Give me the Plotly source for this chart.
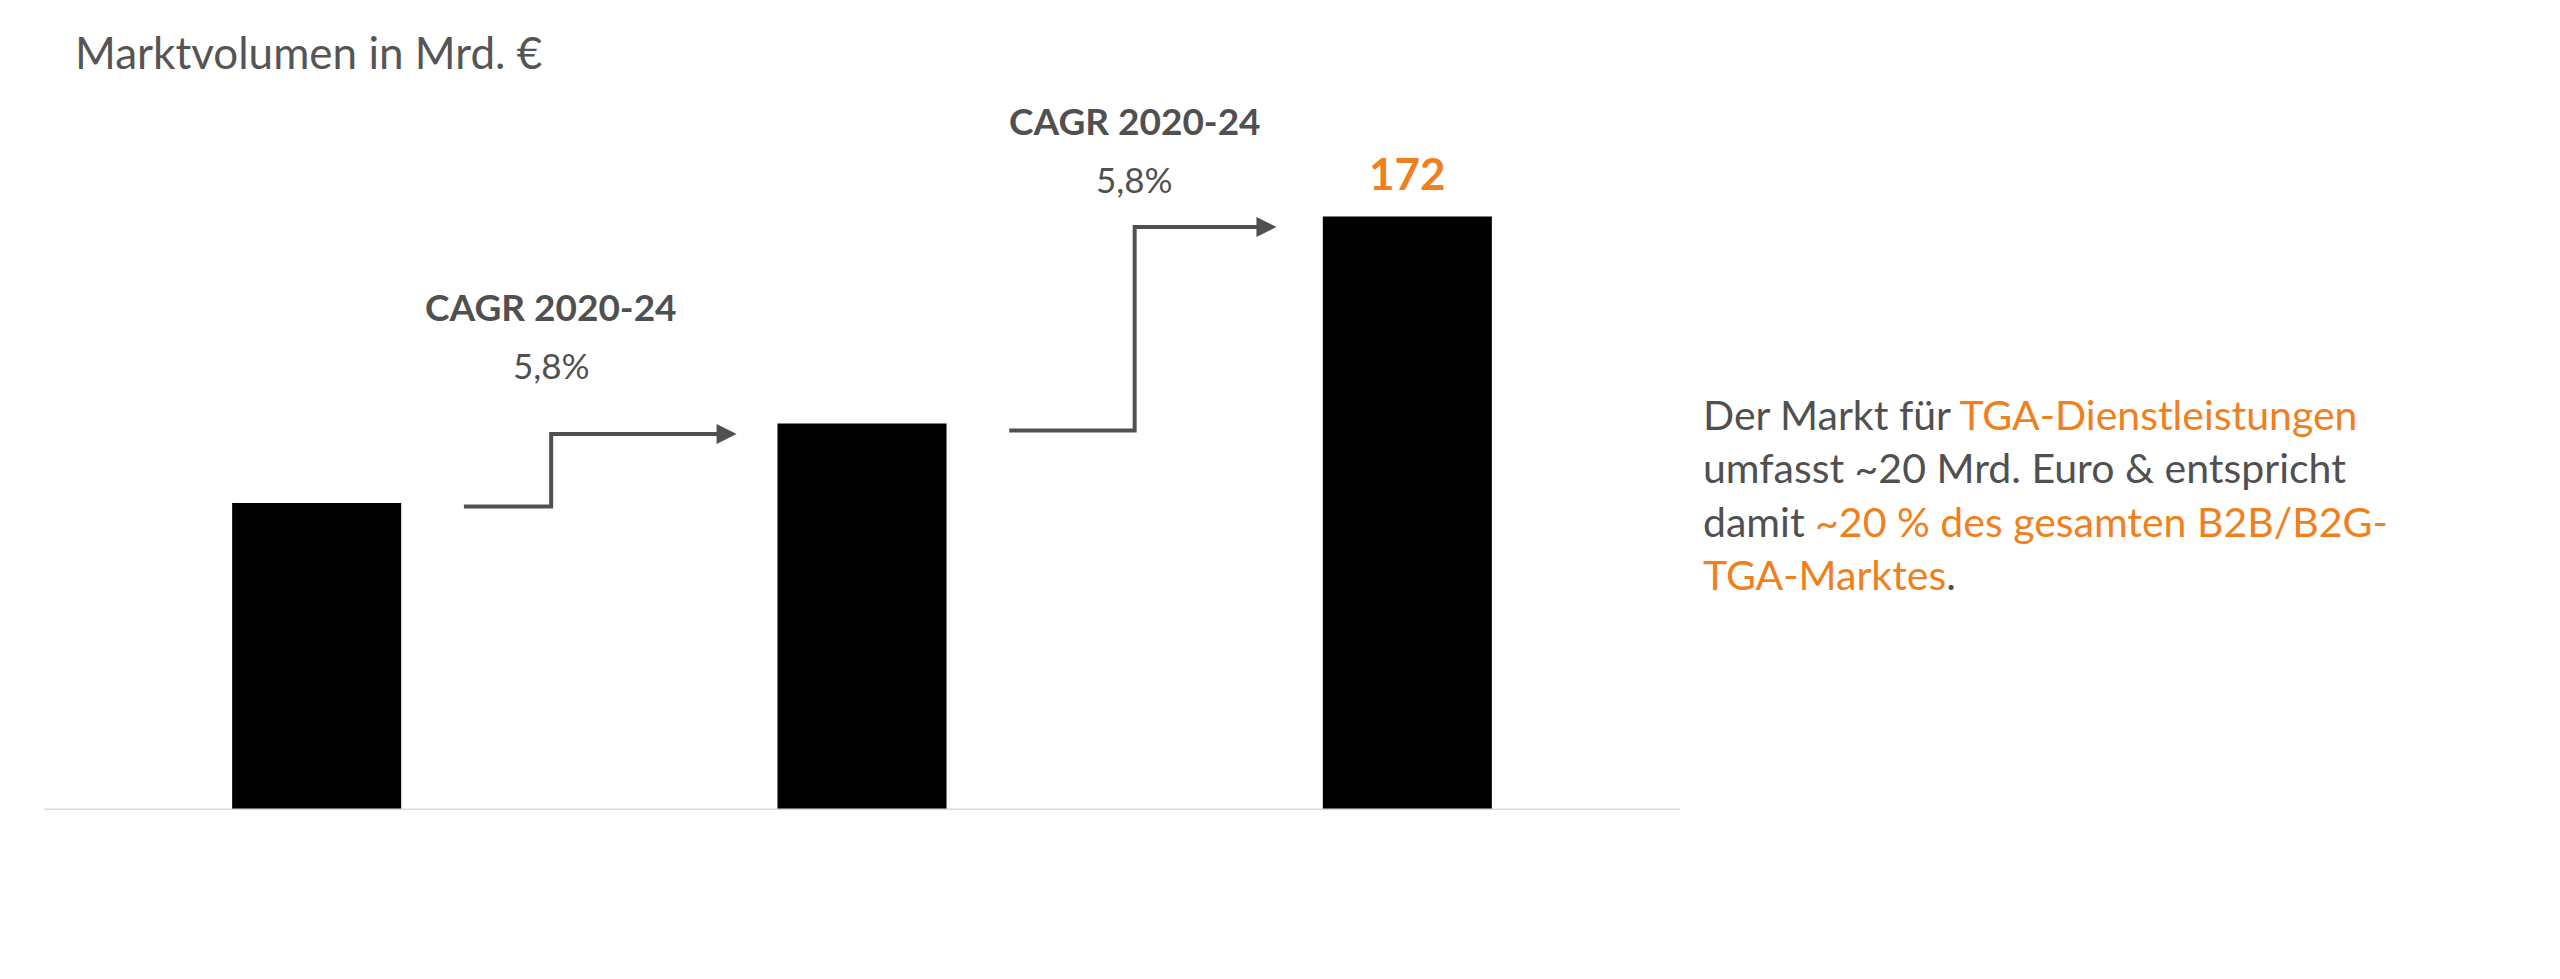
import plotly.graph_objects as go

categories = ["2020", "2024", "2030"]
values = [89, 112, 172]
value_labels = ["89", "112", "172"]
tick_labels = ["2020", "2024", "2030"]
cagr_labels = ["CAGR 2020-24", "CAGR 2020-24"]
cagr_values = ["5,8%", "5,8%"]

ORANGE = "#F07F1E"
GREY = "#505050"
FONT = "Lato, Open Sans, sans-serif"

fig = go.Figure()
fig.add_trace(go.Bar(x=[0, 1, 2], y=values, width=0.31, marker_color="black",
                     marker_line_width=0, hoverinfo="skip"))

# step arrows
arrows = [
    ([0.27, 0.43, 0.43, 0.74], [88, 88, 109, 109]),
    ([1.27, 1.50, 1.50, 1.73], [110, 110, 169, 169]),
]
for xs, ys in arrows:
    fig.add_trace(go.Scatter(x=xs, y=ys, mode="lines", line=dict(color=GREY, width=4),
                             hoverinfo="skip", cliponaxis=False))
    fig.add_annotation(x=xs[-1] + 0.03, y=ys[-1], ax=xs[-1] - 0.01, ay=ys[-1],
                       xref="x", yref="y", axref="x", ayref="y", text="",
                       showarrow=True, arrowhead=2, arrowsize=1, arrowwidth=4,
                       arrowcolor=GREY)

ann = []
for i, (v, lab) in enumerate(zip(values, value_labels)):
    ann.append(dict(x=i, y=v, yshift=44, text=f"<b>{lab}</b>", showarrow=False,
                    font=dict(size=44, color=ORANGE, family=FONT)))
for i, t in enumerate(tick_labels):
    ann.append(dict(x=i, y=-17.4, text=t, showarrow=False,
                    font=dict(size=44, color="#444", family=FONT)))
ann.append(dict(x=2, y=-35.4, text="<i>(Prognose)</i>", showarrow=False,
                font=dict(size=44, color="#444", family=FONT)))
for (cx, cy, py), c, p in zip([(0.43, 146, 129), (1.5, 200, 183)], cagr_labels, cagr_values):
    ann.append(dict(x=cx, y=cy, text=f"<b>{c}</b>", showarrow=False,
                    font=dict(size=37, color=GREY, family=FONT)))
    ann.append(dict(x=cx, y=py, text=p, showarrow=False,
                    font=dict(size=35, color=GREY, family=FONT)))
ann.append(dict(xref="paper", yref="paper", x=0.0, y=1.0, xanchor="left", yanchor="middle",
                xshift=29, yshift=68, text="Marktvolumen in Mrd. €", showarrow=False,
                font=dict(size=44, color="#555", family=FONT)))
o = ORANGE
ann.append(dict(xref="paper", yref="paper", x=1.0, y=1.0, xanchor="left", yanchor="top",
                xshift=21, yshift=-268, align="left", showarrow=False,
                text=(f"Der Markt für <span style='color:{o}'>TGA-Dienstleistungen</span><br>"
                      "umfasst ~20 Mrd. Euro &amp; entspricht<br>"
                      f"damit <span style='color:{o}'>~20 % des gesamten B2B/B2G-</span><br>"
                      f"<span style='color:{o}'>TGA-Marktes</span>."),
                font=dict(size=41, color="#505050", family=FONT)))

fig.update_layout(
    width=2560, height=979, plot_bgcolor="white", paper_bgcolor="white",
    margin=dict(l=36, r=888, t=112, b=177), showlegend=False,
    annotations=ann,
    xaxis=dict(range=[-0.5, 2.5], showticklabels=False, showgrid=False, zeroline=False,
               showline=False, fixedrange=True),
    yaxis=dict(range=[0, 200], visible=False, showgrid=False, zeroline=False),
    shapes=[dict(type="line", xref="paper", yref="y", x0=0, x1=1, y0=0, y1=0,
                 line=dict(color="#d9d9d9", width=3))],
)
fig.write_html("out.html")
